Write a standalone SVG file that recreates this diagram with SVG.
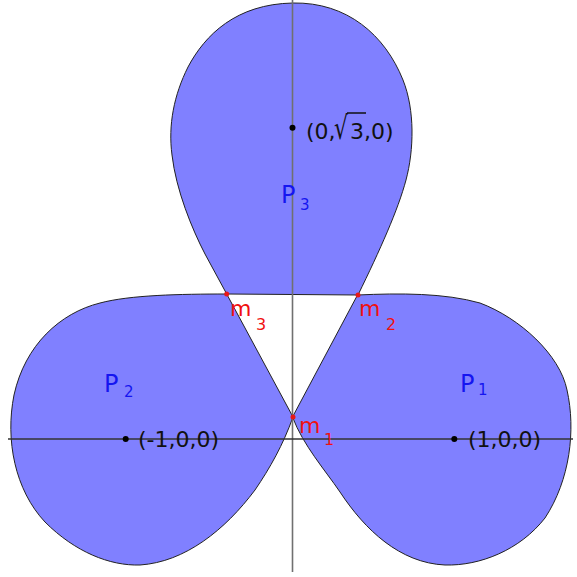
<svg xmlns="http://www.w3.org/2000/svg" width="577" height="577" viewBox="0 0 577 577">
<style>
.lobe{fill:#8080ff;stroke:#222;stroke-width:1;stroke-linejoin:miter}
.lbl{font-family:"DejaVu Sans",sans-serif;fill:#1515f0;font-size:24px}
.sub{font-size:15px}
.mlbl{font-family:"DejaVu Sans",sans-serif;fill:#f01010;font-size:22px}
.msub{font-size:16px}
.coord{font-family:"DejaVu Sans",sans-serif;fill:#111;font-size:22px}
.pt{fill:#000}
.mpt{fill:#e81818}
</style>
<rect width="577" height="577" fill="#fff"/>
<g id="P3">
<path class="lobe" d="M226.7,294 L205,254 C192,229 176,190 172,155 C168,125 174,95 188,67 C205,35 236,4 293,3 C347,2 385,35 403,80 C415,110 414,150 406,180 C398,210 380,250 358,295 Z"/>
</g>
<g id="P2">
<path class="lobe" d="M226.7,294 C180,294 130,295 100,303 C60,313 25,345 14,395 C5,440 15,490 45,522 C75,552 110,566 140,565 C185,562 225,530 255,490 C270,468 283,445 293,417 Z"/>
</g>
<g id="P1">
<path class="lobe" d="M357.5,295 C400,293 445,293 480,303 C520,318 560,355 567,390 C576,430 570,480 545,518 C520,550 480,566 445,565 C400,563 365,530 340,492 C325,470 303,445 292.5,417 Z"/>
</g>
<g id="axes">
<line x1="292.5" y1="0" x2="292.5" y2="572" stroke="#707070" stroke-width="1.6"/>
<line x1="8" y1="439" x2="573" y2="439" stroke="#333" stroke-width="1.4"/>
</g>
<g id="points">
<circle class="pt" cx="292.5" cy="127.7" r="3"/>
<circle class="pt" cx="125.7" cy="439" r="3"/>
<circle class="pt" cx="454.3" cy="439" r="3"/>
<circle class="mpt" cx="293" cy="417" r="2.5"/>
<circle class="mpt" cx="358" cy="295" r="2.5"/>
<circle class="mpt" cx="226.7" cy="294" r="2.5"/>
</g>
<g id="labels">
<text class="lbl" x="281" y="203">P<tspan class="sub" x="300" y="210">3</tspan></text>
<text class="lbl" x="104" y="392">P<tspan class="sub" x="124" y="397">2</tspan></text>
<text class="lbl" x="460" y="392">P<tspan class="sub" x="478" y="395">1</tspan></text>
<text class="mlbl" x="230" y="316">m<tspan class="msub" x="256" y="330">3</tspan></text>
<text class="mlbl" x="359" y="316">m<tspan class="msub" x="386" y="330">2</tspan></text>
<text class="mlbl" x="299" y="433">m<tspan class="msub" x="324" y="445">1</tspan></text>
<text class="coord" x="306" y="139">(0,</text>
<text class="coord" transform="translate(334,139) scale(1,1.45)">√</text>
<line x1="347" y1="113" x2="366" y2="113" stroke="#111" stroke-width="1.5"/>
<text class="coord" x="350" y="139">3,0)</text>
<text class="coord" x="138" y="447">(-1,0,0)</text>
<text class="coord" x="468" y="447">(1,0,0)</text>
</g>
</svg>
